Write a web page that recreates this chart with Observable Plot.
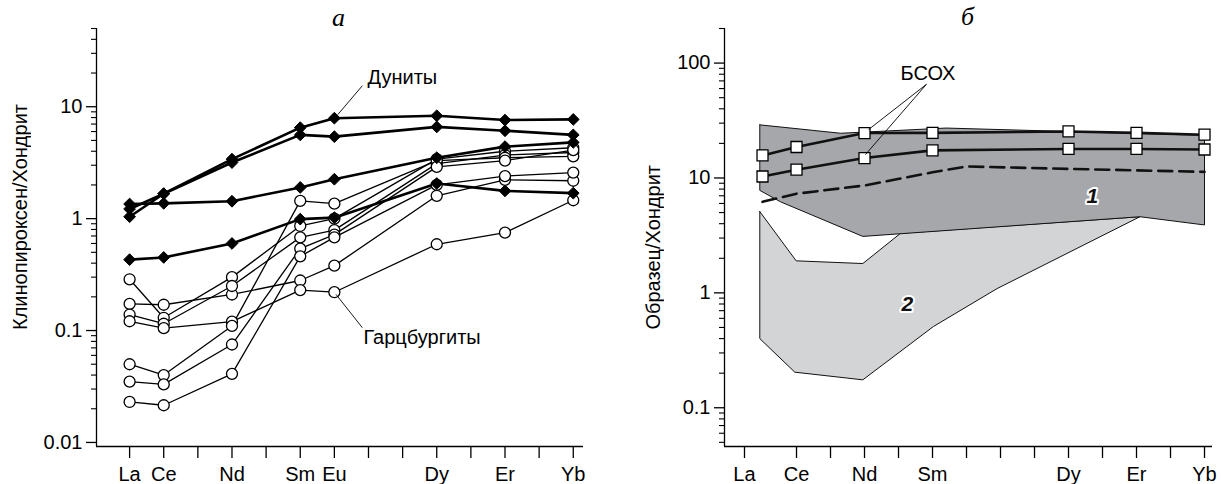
<!DOCTYPE html>
<html><head><meta charset="utf-8">
<script src="https://cdn.jsdelivr.net/npm/d3@7"></script>
<script src="https://cdn.jsdelivr.net/npm/@observablehq/plot@0.6"></script>
<style>
body{margin:0;background:#fff;}
#wrap{position:relative;width:1221px;height:484px;font-family:"Liberation Sans",Arial,sans-serif;color:#000;}
#pa{position:absolute;left:0;top:0;}
#pb{position:absolute;left:610px;top:0;}
.ytitle{position:absolute;writing-mode:vertical-rl;transform:rotate(180deg);font-size:20px;line-height:20px;white-space:nowrap;}
.ptitle{position:absolute;font-family:"Liberation Serif",serif;font-style:italic;font-size:26px;line-height:26px;}
</style></head><body>
<div id="wrap">
  <div id="pa"></div><div id="pb"></div>
  <div class="ytitle" style="left:10px;bottom:154px;">Клинопироксен/Хондрит</div>
  <div class="ytitle" style="left:643px;bottom:154px;">Образец/Хондрит</div>
  <div class="ptitle" style="left:332px;top:5px;">а</div>
  <div class="ptitle" style="left:961px;top:4px;">б</div>
</div>
<script>
// ---------- categories ----------
const elements = ["La","Ce","Pr","Nd","Pm","Sm","Eu","Gd","Tb","Dy","Ho","Er","Tm","Yb"];
const sampledA = ["La","Ce","Nd","Sm","Eu","Dy","Er","Yb"];
const tickLabelsA = ["La","Ce","Nd","Sm","Eu","Dy","Er","Yb"];
const tickLabelsB = ["La","Ce","Nd","Sm","Dy","Er","Yb"];
const tickPosB = [-0.53,1,2,3,4,5,6,7,8,9,10,11,12,13];   // La tick drawn left of its points in the original
const yTicksA = [0.01, 0.1, 1, 10];
const yTickLabelsA = ["0.01","0.1","1","10"];
const yTicksB = [0.1, 1, 10, 100];
const yTickLabelsB = ["0.1","1","10","100"];

// ---------- panel а: clinopyroxene / chondrite ----------
const dunite1 = [1.22, 1.67, 3.40, 6.5, 7.9, 8.3, 7.6, 7.7];
const dunite2 = [1.04, 1.67, 3.17, 5.6, 5.4, 6.6, 6.1, 5.6];
const dunite3 = [1.35, 1.37, 1.43, 1.9, 2.25, 3.5, 4.4, 4.8];
const dunite4 = [0.43, 0.45, 0.60, 0.99, 1.02, 2.06, 1.77, 1.69];

const harz1 = [0.287, 0.13, 0.30, 0.86, 1.0, 3.4, 4.0, 4.3];
const harz2 = [0.173, 0.17, 0.21, 0.28, 0.38, 1.6, 2.22, 2.18];
const harz3 = [0.139, 0.115, 0.25, 0.68, 0.79, 3.1, 3.7, 3.9];
const harz4 = [0.121, 0.105, 0.12, 0.23, 0.22, 0.59, 0.75, 1.46];
const harz5 = [0.050, 0.040, 0.11, 1.44, 1.36, 3.3, 3.5, 3.6];
const harz6 = [0.035, 0.033, 0.075, 0.54, 0.72, 2.9, 3.3, 4.1];
const harz7 = [0.023, 0.0215, 0.041, 0.46, 0.68, 2.0, 2.4, 2.58];

// ---------- panel б: sample / chondrite ----------
const morbEls = ["La","Ce","Nd","Sm","Dy","Er","Yb"];
const morbUpper = [15.7, 18.6, 24.6, 24.7, 25.4, 24.7, 23.8];
const morbLower = [10.3, 11.8, 14.9, 17.4, 17.9, 17.9, 17.7];
const dashEls = ["La","Ce","Nd","Sm","Eu","Dy","Er","Yb"];
const dashVals = [6.2, 7.3, 8.6, 11.2, 12.6, 12.0, 11.65, 11.3];
// field outlines: position along REE axis (element index) and normalized value
const field1X = [-0.08, 2.3, 5.4, 13, 13, 11.1, 2.95, 0.53, -0.08, -0.08];
const field1Y = [29, 24.5, 27.2, 23.5, 3.9, 4.6, 3.1, 6.2, 7.8, 29];
const field2X = [-0.08, 0.99, 2.95, 4.06, 11.1, 6.9, 5.03, 2.95, 0.95, -0.08, -0.08];
const field2Y = [5.1, 1.9, 1.8, 3.3, 4.6, 1.09, 0.51, 0.175, 0.204, 0.40, 5.1];

// ---------- build tables ----------
const idx = e => elements.indexOf(e);
const rows = (name, els, vals) => els.map((e, j) => ({s: name, x: idx(e), y: vals[j]}));
const dun = [dunite1, dunite2, dunite3, dunite4].flatMap((v, k) => rows("D" + k, sampledA, v));
const harz = [harz1, harz2, harz3, harz4, harz5, harz6, harz7].flatMap((v, k) => rows("H" + k, sampledA, v));
const morb = [...rows("U", morbEls, morbUpper), ...rows("L", morbEls, morbLower)];
const dashed = rows("dash", dashEls, dashVals);
const field1 = field1X.map((x, i) => ({x, y: field1Y[i]}));
const field2 = field2X.map((x, i) => ({x, y: field2Y[i]}));

const minorTicks = (decades, lo, hi) => {
  const out = [];
  for (const d of decades) for (let k = 2; k <= 9; k++) { const v = +(d * k).toPrecision(3); if (v >= lo && v <= hi) out.push(v); }
  return out;
};

const FONT = "'Liberation Sans', Arial, sans-serif";
const style = {fontFamily: FONT, fontSize: "20px", color: "#000", background: "transparent", overflow: "visible"};

// ---------- panel а ----------
const xA = [-0.97, 13.3], yA = [0.0092, 50];
const pa = Plot.plot({
  width: 610, height: 484, marginLeft: 96, marginRight: 27, marginTop: 28, marginBottom: 38,
  style,
  x: {domain: xA},
  y: {type: "log", domain: yA},
  marks: [
    Plot.ruleX([xA[0]], {stroke: "#000", strokeWidth: 1.3}),
    Plot.ruleY([yA[0]], {stroke: "#000", strokeWidth: 1.3}),
    Plot.axisY(minorTicks([0.01, 0.1, 1, 10], yA[0], yA[1]), {tickSize: 5, tickFormat: () => "", strokeWidth: 1.1, label: null}),
    Plot.axisY(yTicksA, {tickSize: 10, tickPadding: 4, strokeWidth: 1.3, tickFormat: d => yTickLabelsA[yTicksA.indexOf(d)], label: null}),
    Plot.axisX(d3.range(elements.length), {tickSize: 12, tickPadding: 8, strokeWidth: 1.3,
      tickFormat: i => tickLabelsA.includes(elements[i]) ? elements[i] : "", label: null}),
    Plot.line(harz, {x: "x", y: "y", z: "s", stroke: "#000", strokeWidth: 1.3}),
    Plot.line(dun, {x: "x", y: "y", z: "s", stroke: "#000", strokeWidth: 2.6}),
    Plot.dot(harz, {x: "x", y: "y", r: 5.5, fill: "#fff", stroke: "#000", strokeWidth: 1.3}),
    Plot.dot(dun, {x: "x", y: "y", r: 5.3, symbol: "diamond2", fill: "#000", stroke: "#000", strokeWidth: 1}),
    Plot.link([{x1: 6.82, y1: 15.4, x2: 6.1, y2: 8.5}, {x1: 6.82, y1: 0.106, x2: 6.05, y2: 0.21}],
      {x1: "x1", y1: "y1", x2: "x2", y2: "y2", stroke: "#000", strokeWidth: 0.9}),
    Plot.text([{x: 6.97, y: 18.2, t: "Дуниты"}, {x: 6.85, y: 0.0866, t: "Гарцбургиты"}],
      {x: "x", y: "y", text: "t", textAnchor: "start", fontSize: 20, fill: "#000"})
  ]
});
document.getElementById("pa").append(pa);

// ---------- panel б ----------
const xB = [-1.118, 13.235], yB = [0.046, 200];
const pb = Plot.plot({
  width: 611, height: 484, marginLeft: 114, marginRight: 9, marginTop: 28, marginBottom: 38,
  style,
  x: {domain: xB},
  y: {type: "log", domain: yB},
  marks: [
    Plot.line(field2, {x: "x", y: "y", fill: "#d3d4d6", stroke: "#111", strokeWidth: 1}),
    Plot.line(field1, {x: "x", y: "y", fill: "#a6a7aa", stroke: "#111", strokeWidth: 1}),
    Plot.line(dashed, {x: "x", y: "y", stroke: "#111", strokeWidth: 2.6, strokeDasharray: "14,7"}),
    Plot.line(morb, {x: "x", y: "y", z: "s", stroke: "#111", strokeWidth: 2.6}),
    Plot.dot(morb, {x: "x", y: "y", symbol: "square", r: 6.2, fill: "#fff", stroke: "#000", strokeWidth: 1.3}),
    Plot.ruleX([xB[0]], {stroke: "#000", strokeWidth: 1.3}),
    Plot.ruleY([yB[0]], {stroke: "#000", strokeWidth: 1.3}),
    Plot.axisY(minorTicks([0.01, 0.1, 1, 10, 100], yB[0], yB[1]), {tickSize: 5, tickFormat: () => "", strokeWidth: 1.1, label: null}),
    Plot.axisY(yTicksB, {tickSize: 10, tickPadding: 4, strokeWidth: 1.3, tickFormat: d => yTickLabelsB[yTicksB.indexOf(d)], label: null}),
    Plot.axisX(tickPosB, {tickSize: 12, tickPadding: 8, strokeWidth: 1.3,
      tickFormat: p => { const e = p < 0 ? "La" : elements[p]; return (p < 0 || (e !== "La" && tickLabelsB.includes(e))) ? e : ""; }, label: null}),
    Plot.link([{x1: 4.82, y1: 65.3, x2: 3.12, y2: 26.4}, {x1: 4.82, y1: 65.3, x2: 3.03, y2: 16.0}],
      {x1: "x1", y1: "y1", x2: "x2", y2: "y2", stroke: "#000", strokeWidth: 0.9}),
    Plot.text([{x: 4.06, y: 81.5, t: "БСОХ"}], {x: "x", y: "y", text: "t", textAnchor: "start", fontSize: 20, fill: "#000"}),
    Plot.text([{x: 9.7, y: 6.95, t: "1"}, {x: 4.26, y: 0.80, t: "2"}],
      {x: "x", y: "y", text: "t", fontSize: 21, fontStyle: "italic", fontWeight: "bold", fill: "#111", stroke: "#fff", strokeWidth: 4})
  ]
});
document.getElementById("pb").append(pb);
</script>
</body></html>
